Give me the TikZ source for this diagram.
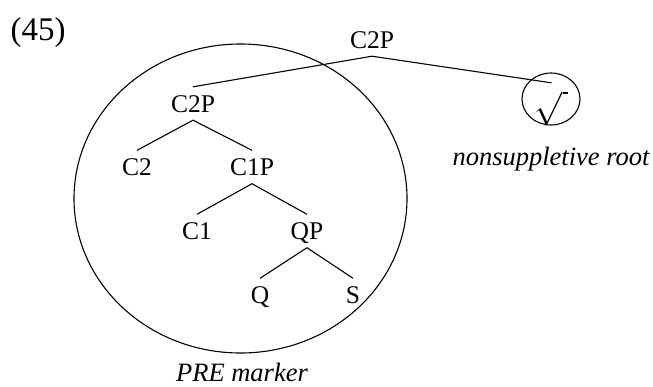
\documentclass[tikz,border=0pt]{standalone}
\usepackage{fontspec}
\setmainfont{Liberation Serif}
\usetikzlibrary{shapes.geometric}
\begin{document}
\begin{tikzpicture}[x=1pt,y=-1pt,
  lab/.style={font=\fontsize{25.5}{30}\selectfont, text height=17pt, text depth=0pt, inner xsep=0pt, inner ysep=8pt},
  caption/.style={font=\itshape\fontsize{26.5}{32}\selectfont, inner sep=0pt, anchor=base},
  edge/.style={line width=1.1pt},
  ring/.style={draw, ellipse, inner sep=0pt, line width=1.1pt}]
\useasboundingbox (0,0) rectangle (653,386);

\node[font=\fontsize{33}{40}\selectfont, inner sep=0pt, anchor=base] (num) at (38,40) {(45)};

% big ellipse (PRE marker)
\node[ring, minimum width=333pt, minimum height=309pt] (pre) at (240.5,198.5) {};
% root ellipse
\node[ring, minimum width=58pt, minimum height=52pt] (rootc) at (551,99) {};

% tree nodes
\node[lab] (top) at (372,39.5) {C2P};
\node[lab] (c2p) at (193,103.5) {C2P};
\node[lab] (c2) at (137,167) {C2};
\node[lab] (c1p) at (252,167) {C1P};
\node[lab] (c1) at (197,231) {C1};
\node[lab] (qp) at (307,231) {QP};
\node[lab] (q) at (260,295) {Q};
\node[lab] (s) at (353,295) {S};
\node[font=\fontsize{27}{32}\selectfont, inner sep=0pt] (rt) at (551.5,108.5) {\scalebox{1.35}{$\sqrt{\vphantom{A}\hspace{4pt}}$}};
\coordinate (rtop) at ([yshift=8pt]rt.north);

% connectors
\draw[edge] (top.south) -- (c2p.north);
\draw[edge] (top.south) -- (rtop);
\draw[edge] (c2p.south) -- (c2.north);
\draw[edge] (c2p.south) -- (c1p.north);
\draw[edge] (c1p.south) -- (c1.north);
\draw[edge] (c1p.south) -- (qp.north);
\draw[edge] (qp.south) -- (q.north);
\draw[edge] (qp.south) -- (s.north);

% labels
\node[caption] (prelab) at (242,381) {PRE marker};
\node[caption] (rootlab) at (551,165) {nonsuppletive root};
\end{tikzpicture}
\end{document}
